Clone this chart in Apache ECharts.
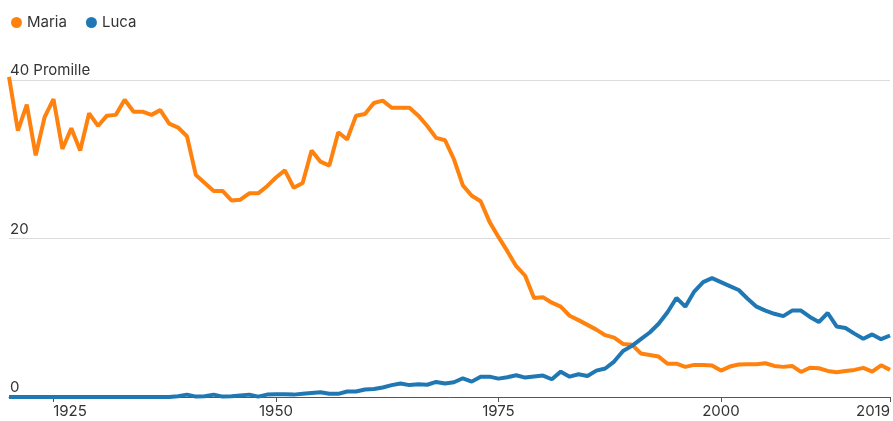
<!DOCTYPE html>
<html>
<head>
<meta charset="utf-8">
<title>Maria und Luca</title>
<script src="https://cdn.jsdelivr.net/npm/echarts@6/dist/echarts.min.js"></script>
<style>
  html, body { margin: 0; padding: 0; background: #fff; }
  #chart { width: 893px; height: 421px; }
</style>
</head>
<body>
<div id="chart"></div>
<script>
// Jahre 1920 - 2019
var years = [];
for (var y = 1920; y <= 2019; y++) years.push(y);

// Promille, Maria
var maria = [
  40.4, 33.6, 36.9, 30.5, 35.3, 37.6, 31.3, 33.9, 31.1, 35.8,
  34.2, 35.5, 35.6, 37.5, 36.0, 36.0, 35.6, 36.2, 34.5, 34.0,
  32.9, 28.0, 27.0, 26.0, 26.0, 24.8, 24.9, 25.7, 25.7, 26.6,
  27.7, 28.6, 26.4, 27.0, 31.1, 29.7, 29.2, 33.4, 32.5, 35.5,
  35.7, 37.1, 37.4, 36.5, 36.5, 36.5, 35.5, 34.2, 32.7, 32.4,
  30.0, 26.7, 25.4, 24.7, 22.1, 20.2, 18.4, 16.5, 15.3, 12.5,
  12.6, 11.9, 11.4, 10.25, 9.7, 9.1, 8.5, 7.8, 7.5, 6.7,
  6.6, 5.5, 5.3, 5.1, 4.2, 4.2, 3.8, 4.05, 4.05, 3.96,
  3.33, 3.84, 4.1, 4.13, 4.13, 4.26, 3.92, 3.8, 3.92, 3.16,
  3.7, 3.63, 3.29, 3.12, 3.29, 3.42, 3.67, 3.2, 4.0, 3.42
];

// Promille, Luca
var luca = [
  0, 0, 0, 0, 0, 0, 0, 0, 0, 0,
  0, 0, 0, 0, 0, 0, 0, 0, 0, 0.1,
  0.3, 0.05, 0.1, 0.3, 0.05, 0.1, 0.2, 0.3, 0.05, 0.3,
  0.35, 0.35, 0.3, 0.4, 0.5, 0.6, 0.4, 0.4, 0.7, 0.7,
  0.95, 1.0, 1.2, 1.5, 1.7, 1.5, 1.6, 1.55, 1.9, 1.7,
  1.86, 2.36, 1.94, 2.57, 2.57, 2.32, 2.49, 2.74, 2.45, 2.6,
  2.7, 2.24, 3.2, 2.57, 2.87, 2.66, 3.33, 3.6, 4.47, 5.8,
  6.45, 7.3, 8.14, 9.24, 10.7, 12.5, 11.4, 13.3, 14.5, 15.0,
  14.5, 14.0, 13.5, 12.4, 11.4, 10.9, 10.5, 10.2, 10.9, 10.9,
  10.1, 9.46, 10.6, 8.9, 8.7, 8.0, 7.34, 7.9, 7.3, 7.76
];

var xTicks = [1925, 1950, 1975, 2000, 2019];
var yUnit = 'Promille';

function pairs(vals) {
  return years.map(function (yr, i) { return [yr, vals[i]]; });
}

var myChart = echarts.init(document.getElementById('chart'));
var option = {
  animation: false,
  textStyle: { fontFamily: 'Inter, "Noto Sans", sans-serif', color: '#333' },
  color: ['#ff820f', '#1f78b4'],
  legend: {
    left: 6,
    top: 10,
    icon: 'circle',
    itemWidth: 11,
    itemHeight: 11,
    itemGap: 19,
    textStyle: { fontSize: 15, color: '#333' },
    data: ['Maria', 'Luca']
  },
  grid: { left: 9, right: 1, top: 80, bottom: 24 },
  xAxis: {
    type: 'value',
    min: 1920,
    max: 2019,
    axisLine: { lineStyle: { color: '#555', width: 1 } },
    axisTick: { show: true, length: 5, customValues: xTicks, lineStyle: { color: '#555' } },
    splitLine: { show: false },
    axisLabel: {
      customValues: xTicks,
      fontSize: 15,
      color: '#333',
      margin: 7,
      alignMaxLabel: 'right',
      formatter: function (v) {
        if (v === 1925) return '{l|' + v + '}';
        return String(v);
      },
      rich: { l: { fontSize: 15, color: '#333', padding: [0, 0, 0, 33] } }
    }
  },
  yAxis: {
    type: 'value',
    min: 0,
    max: 40,
    interval: 20,
    axisLine: { show: false },
    axisTick: { show: false },
    splitLine: { lineStyle: { color: '#dcdcdc', width: 1 } },
    axisLabel: {
      inside: true,
      margin: 1,
      verticalAlign: 'bottom',
      padding: [0, 0, 2, 0],
      fontSize: 15,
      color: '#333',
      formatter: function (v) { return v === 40 ? v + ' ' + yUnit : String(v); }
    }
  },
  series: [
    {
      name: 'Maria',
      type: 'line',
      data: pairs(maria),
      showSymbol: false,
      clip: false,
      lineStyle: { width: 4 },
      z: 3
    },
    {
      name: 'Luca',
      type: 'line',
      data: pairs(luca),
      showSymbol: false,
      clip: false,
      lineStyle: { width: 4 },
      z: 4
    }
  ]
};
myChart.setOption(option);
</script>
</body>
</html>
